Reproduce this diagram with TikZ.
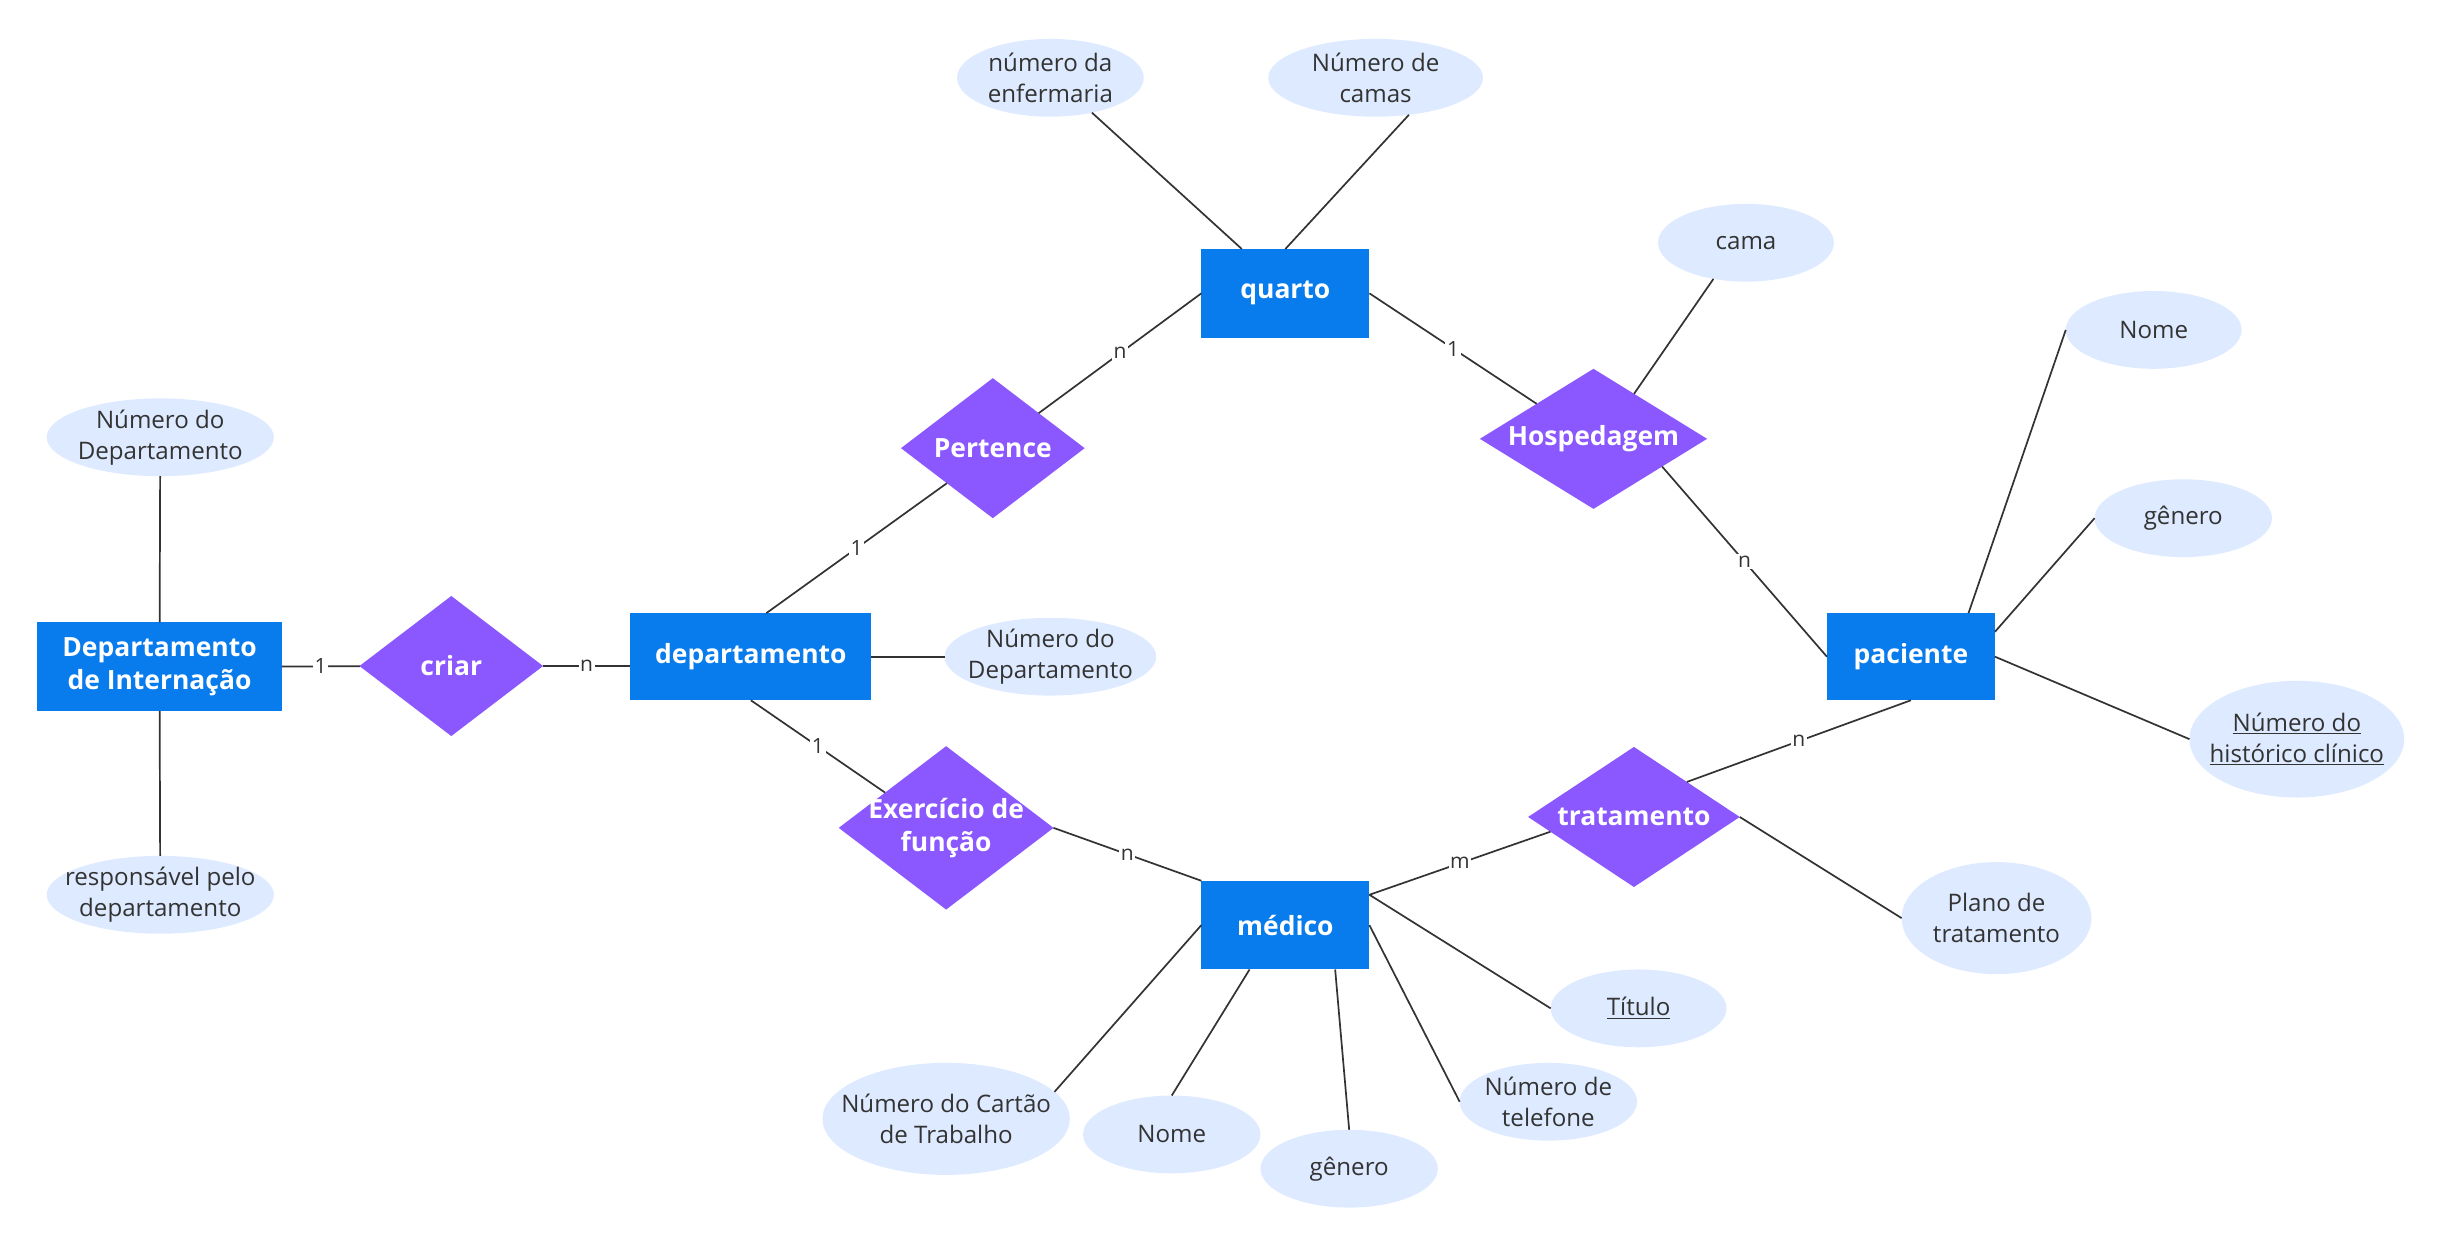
\documentclass[tikz,border=0pt]{standalone}
\usepackage{fontspec}
\setmainfont{Open Sans}
\usetikzlibrary{shapes.geometric}
\definecolor{entblue}{RGB}{8,123,237}
\definecolor{relpurple}{RGB}{139,87,255}
\definecolor{attrblue}{RGB}{222,234,255}
\definecolor{linegray}{RGB}{51,51,51}
\tikzset{
  entity/.style={rectangle,fill=entblue,text=white,align=center,inner sep=0pt,outer sep=0pt,
    font=\fontsize{17}{21}\selectfont\bfseries},
  rel/.style={diamond,fill=relpurple,text=white,align=center,inner sep=-8pt,outer sep=0pt,
    font=\fontsize{17}{21}\selectfont\bfseries},
  attr/.style={ellipse,fill=attrblue,text=linegray,align=center,inner sep=-16pt,outer sep=0pt,
    font=\fontsize{15.5}{20}\selectfont},
  card/.style={fill=white,text=linegray,inner sep=1pt,font=\fontsize{13.5}{15}\selectfont},
  conn/.style={draw=linegray,line width=1.1pt}
}
\begin{document}
\begin{tikzpicture}[x=1pt,y=-1pt]
\useasboundingbox (0,0) rectangle (1568,800);

\node[entity,minimum width=157pt,minimum height=57pt] (dint) at (102.5,428.5) {Departamento\\de Internação};
\node[entity,minimum width=155pt,minimum height=56pt] (dep) at (482.5,422) {departamento};
\node[entity,minimum width=108pt,minimum height=57pt] (quarto) at (826,188.5) {quarto};
\node[entity,minimum width=108pt,minimum height=56pt] (paciente) at (1228,422) {paciente};
\node[entity,minimum width=108pt,minimum height=57pt] (medico) at (826,594.5) {médico};

\node[rel,shape aspect=1.31,minimum width=118pt,minimum height=90pt] (criar) at (290,428) {criar};
\node[rel,shape aspect=1.31,minimum width=118pt,minimum height=90pt] (pert) at (638,288) {Pertence};
\node[rel,shape aspect=1.62,minimum width=146pt,minimum height=90pt] (hosp) at (1024,282) {Hospedagem};
\node[rel,shape aspect=1.51,minimum width=136pt,minimum height=90pt] (trat) at (1050,525) {tratamento};
\node[rel,shape aspect=1.31,minimum width=138pt,minimum height=105pt] (exerc) at (608,532) {Exercício de\\função};

\node[attr,minimum width=146pt,minimum height=50pt] (a1) at (103,281) {Número do\\Departamento};
\node[attr,minimum width=146pt,minimum height=50pt] (a2) at (103,575) {responsável pelo\\departamento};
\node[attr,minimum width=136pt,minimum height=50pt] (a3) at (675,422) {Número do\\Departamento};
\node[attr,minimum width=120pt,minimum height=50pt] (a4) at (675,50) {número da\\enfermaria};
\node[attr,minimum width=138pt,minimum height=50pt] (a5) at (884,50) {Número de\\camas};
\node[attr,minimum width=113pt,minimum height=50pt] (a6) at (1122,156) {cama};
\node[attr,minimum width=113pt,minimum height=50pt] (a7) at (1384,212) {Nome};
\node[attr,minimum width=114pt,minimum height=50pt] (a8) at (1403,333) {gênero};
\node[attr,minimum width=138pt,minimum height=75pt] (a9) at (1476,475) {\underline{Número do}\\\underline{histórico clínico}};
\node[attr,minimum width=122pt,minimum height=72pt] (a10) at (1283,590) {Plano de\\tratamento};
\node[attr,minimum width=113pt,minimum height=50pt] (a11) at (1053,648) {\underline{Título}};
\node[attr,minimum width=114pt,minimum height=50pt] (a12) at (995,708) {Número de\\telefone};
\node[attr,minimum width=114pt,minimum height=50pt] (a13) at (867,751) {gênero};
\node[attr,minimum width=114pt,minimum height=50pt] (a14) at (753,729) {Nome};
\node[attr,minimum width=159pt,minimum height=72pt] (a15) at (608,719) {Número do Cartão\\de Trabalho};

\draw[conn] (a1) -- (dint);
\draw[conn] (dint) -- (a2);
\draw[conn] (dint) -- node[card]{1} (criar);
\draw[conn] (criar.east) -- node[card]{n} (criar.east -| dep.west);
\draw[conn] (dep) -- (a3);
\draw[conn] ([xshift=10pt]dep.north) -- node[card]{1} (pert.south west);
\draw[conn] (pert.north east) -- node[card]{n} (quarto.west);
\draw[conn] ([xshift=-28pt]quarto.north) -- (a4.-40);
\draw[conn] (quarto.north) -- (a5.-48);
\draw[conn] (quarto.east) -- node[card]{1} (hosp.north west);
\draw[conn] (hosp.48) -- (a6.-132);
\draw[conn] (hosp.-22) -- node[card]{n} (paciente.west);
\draw[conn] ([xshift=37pt]paciente.north) -- (a7.west);
\draw[conn] ([yshift=16pt]paciente.east) -- (a8.west);
\draw[conn] (paciente.east) -- (a9.west);
\draw[conn] (paciente.south) -- node[card]{n} (trat.north east);
\draw[conn] (trat.east) -- (a10.west);
\draw[conn] (trat.190) -- node[card]{m} ([yshift=19.5pt]medico.east);
\draw[conn] (dep.south) -- node[card]{1} (exerc.150);
\draw[conn] (exerc.east) -- node[card]{n} (medico.north west);
\draw[conn] ([yshift=19.5pt]medico.east) -- (a11.west);
\draw[conn] (medico.east) -- (a12.west);
\draw[conn] ([xshift=32pt]medico.south) -- (a13.north);
\draw[conn] ([xshift=-23pt]medico.south) -- (a14.north);
\draw[conn] (medico.west) -- (a15.14);
\end{tikzpicture}
\end{document}
